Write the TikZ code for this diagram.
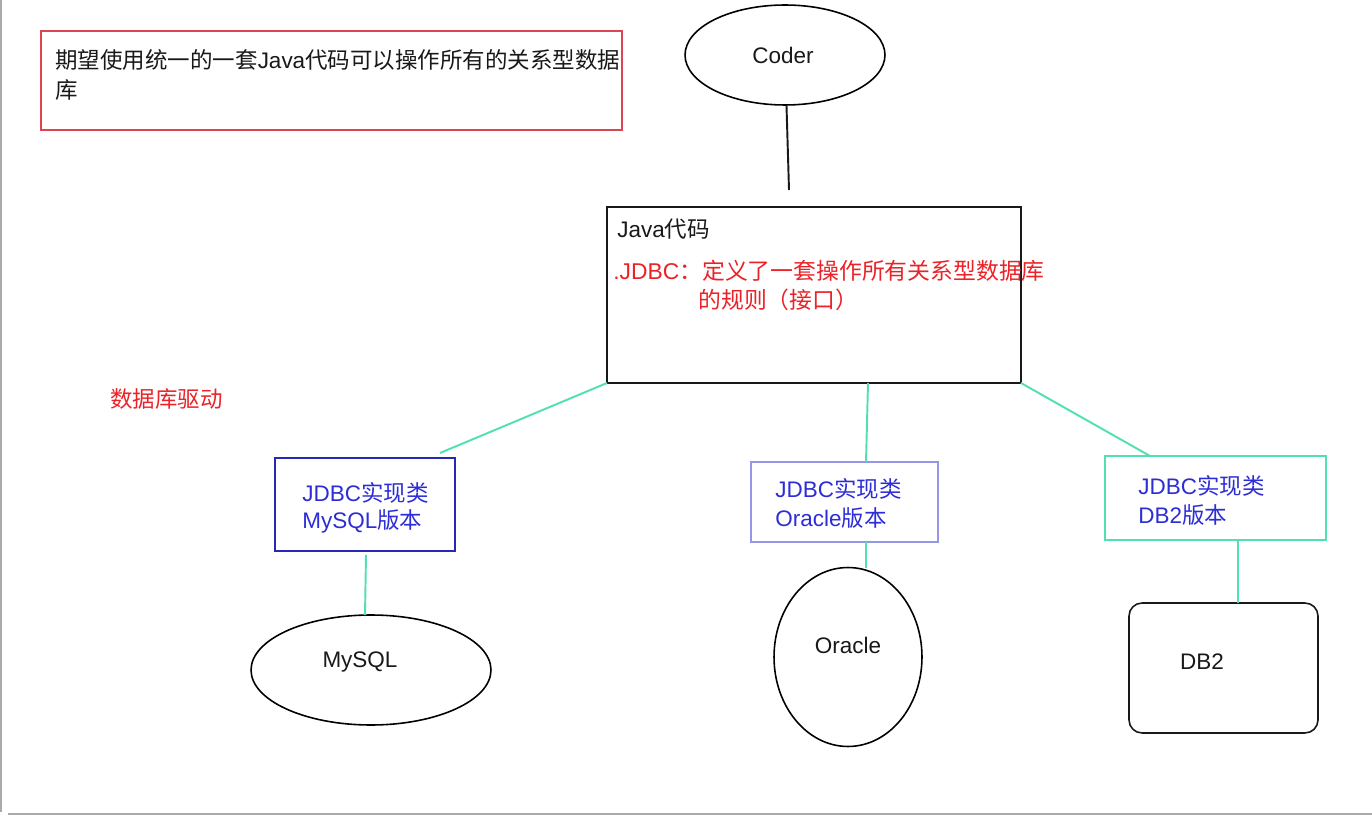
\documentclass[tikz,border=0pt]{standalone}
\usepackage{fontspec}
\setmainfont{Liberation Sans}
\newfontfamily\cjk{Noto Sans CJK SC}
\usetikzlibrary{shapes.geometric, positioning}
\definecolor{jdbcred}{RGB}{235,35,40}
\definecolor{boxred}{RGB}{220,70,80}
\definecolor{implblue}{RGB}{45,45,215}
\definecolor{mysqlblue}{RGB}{40,40,180}
\definecolor{oraclelilac}{RGB}{150,150,230}
\definecolor{linkgreen}{RGB}{80,225,175}
\definecolor{inkgray}{RGB}{25,25,25}
\definecolor{framegray}{RGB}{170,170,170}
\tikzset{
  box/.style={draw, rectangle, inner sep=0pt, outer sep=0pt, line width=1pt},
  db/.style={draw, ellipse, inner sep=0pt, outer sep=0pt, line width=0.9pt},
  txt/.style={anchor=west, inner sep=0pt, text=inkgray, font=\fontsize{12.8}{15}\selectfont},
  impltxt/.style={txt, text=implblue},
  link/.style={draw=linkgreen, line width=1.1pt},
}

\begin{document}
\begin{tikzpicture}[x=0.02cm, y=-0.02cm]
  \useasboundingbox (0,0) rectangle (1372,817);
  \fill[white] (0,0) rectangle (1372,817);
  \draw[framegray, line width=0.8pt] (1,0) -- (1,812);
  \draw[framegray, line width=1pt] (8,814) -- (1372,814);

  % goal
  \node[box, draw=boxred, minimum width=11.62cm, minimum height=1.98cm] (goal) at (331.5,80.5) {};
  \node[txt] (goal1) at (55,60) {{\cjk 期望使用统一的一套}Java{\cjk 代码可以操作所有的关系型数据}};
  \node[txt] (goal2) at (55,90) {{\cjk 库}};

  % coder and java code
  \node[db, minimum width=4cm, minimum height=2cm] (coder) at (785,55) {};
  \node[txt, anchor=center] (codername) at (783,55) {Coder};
  \coordinate (coderend) at (789,190);
  \node[box, draw=inkgray, line width=1.2pt, minimum width=8.28cm, minimum height=3.52cm] (java) at (814,295) {};
  \node[txt] (javaname) at (617,229) {Java{\cjk 代码}};
  \node[txt, text=jdbcred, font=\fontsize{13}{16}\selectfont] (jdbc1) at (613,271) {.JDBC{\cjk ：定义了一套操作所有关系型数据库}};
  \node[txt, text=jdbcred, font=\fontsize{13}{16}\selectfont] (jdbc2) at (698,300) {{\cjk 的规则（接口）}};
  \draw[inkgray, line width=1.1pt] (coder) -- (coderend);

  \node[txt, text=jdbcred] (driver) at (110,399) {{\cjk 数据库驱动}};

  % driver implementations
  \node[box, draw=mysqlblue, minimum width=3.6cm, minimum height=1.86cm] (mysqlimpl) at (365,504.5) {};
  \node[impltxt] (mysqlimpl1) at (302,493) {JDBC{\cjk 实现类}};
  \node[impltxt] (mysqlimpl2) at (302,521) {MySQL{\cjk 版本}};
  \node[box, draw=oraclelilac, minimum width=3.74cm, minimum height=1.6cm] (oracleimpl) at (844.5,502) {};
  \node[impltxt] (oracleimpl1) at (775,489) {JDBC{\cjk 实现类}};
  \node[impltxt] (oracleimpl2) at (775,518) {Oracle{\cjk 版本}};
  \node[box, draw=linkgreen, minimum width=4.42cm, minimum height=1.68cm] (dbtwoimpl) at (1215.5,498) {};
  \node[impltxt] (dbtwoimpl1) at (1138,486) {JDBC{\cjk 实现类}};
  \node[impltxt] (dbtwoimpl2) at (1138,515) {DB2{\cjk 版本}};

  % databases
  \node[db, minimum width=4.8cm, minimum height=2.2cm] (mysql) at (371,670) {};
  \node[txt, anchor=center] (mysqlname) at (360,662) {MySQL};
  \node[db, minimum width=2.96cm, minimum height=3.58cm] (oracle) at (848,657) {};
  \node[txt, anchor=center] (oraclename) at (848,645) {Oracle};
  \node[box, rounded corners=0.26cm, draw=inkgray, line width=0.9pt, minimum width=3.78cm, minimum height=2.6cm] (dbtwo) at (1223.5,668) {};
  \node[txt, anchor=center] (dbtwoname) at (1202,662) {DB2};

  % links
  \coordinate (javaoracle) at (868,383);
  \coordinate (mysqltop) at (440,453);
  \coordinate (oracletop) at (866,462);
  \coordinate (dbtwotop) at (1150,456);
  \draw[link] (java.south west) -- (mysqltop);
  \draw[link] (javaoracle) -- (oracletop);
  \draw[link] (java.south east) -- (dbtwotop);
  \draw[link] (mysqlimpl.south) ++(1,4) -- (mysql.north -| mysqlimpl.south);
  \coordinate (oraclebottom) at (866,542);
  \draw[link] (oraclebottom) -- (oraclebottom |- oracle.north);
  \coordinate (dbtwobottom) at (1238,540);
  \draw[link] (dbtwobottom) -- (dbtwobottom |- dbtwo.north);
\end{tikzpicture}
\end{document}
